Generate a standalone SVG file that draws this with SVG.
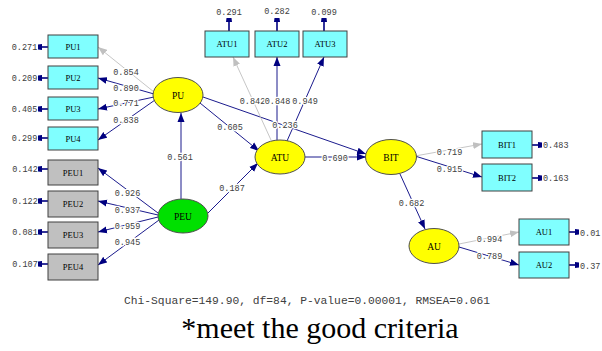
<svg xmlns="http://www.w3.org/2000/svg" width="602" height="351" viewBox="0 0 602 351">
<style>
.bg{fill:#fff}
.box{fill:#80FFFF;stroke:#404040;stroke-width:1}
.gbox{fill:#C0C0C0;stroke:#404040;stroke-width:1}
.ell{fill:#FFFF00;stroke:#505050;stroke-width:1}
.gell{fill:#00E000;stroke:#505050;stroke-width:1}
.bl{font-family:"Liberation Serif",serif;font-size:8.5px;fill:#000;text-anchor:middle}
.lv{font-family:"Liberation Serif",serif;font-size:9.5px;fill:#000;text-anchor:middle}
.n{font-family:"Liberation Mono",monospace;font-size:8.5px;fill:#404040;text-anchor:middle;stroke:#fff;stroke-width:2.5px;paint-order:stroke}
.e{font-family:"Liberation Mono",monospace;font-size:8.5px;fill:#404040;text-anchor:middle}
.es{font-family:"Liberation Mono",monospace;font-size:8.5px;fill:#404040;text-anchor:start}
.ln{stroke:#000080;stroke-width:0.9;fill:none;marker-end:url(#an)}
.lg{stroke:#C0C0C0;stroke-width:0.9;fill:none;marker-end:url(#ag)}
.er{stroke:#000080;stroke-width:1.6;fill:none;marker-end:url(#ae)}
</style>
<defs>
<marker id="an" markerUnits="userSpaceOnUse" markerWidth="10" markerHeight="8" refX="9" refY="4" orient="auto"><path d="M0,0.5 L9,4 L0,7.5 Z" fill="#000080"/></marker>
<marker id="ag" markerUnits="userSpaceOnUse" markerWidth="10" markerHeight="8" refX="9" refY="4" orient="auto"><path d="M0,0.5 L9,4 L0,7.5 Z" fill="#C0C0C0"/></marker>
<marker id="ae" markerUnits="userSpaceOnUse" markerWidth="6" markerHeight="6" refX="4" refY="3" orient="auto"><path d="M0,0 L4,0.5 L4,5.5 L0,6 Z" fill="#000080"/></marker>
</defs>
<rect class="bg" x="0" y="0" width="602" height="351"/>

<g id="connectors">
<line class="lg" x1="154" y1="92" x2="98" y2="47"/>
<line class="ln" x1="154" y1="94" x2="98" y2="78"/>
<line class="ln" x1="154" y1="97" x2="98" y2="109"/>
<line class="ln" x1="155" y1="100" x2="98" y2="140"/>
<line class="ln" x1="158" y1="213" x2="98" y2="168"/>
<line class="ln" x1="158" y1="215" x2="98" y2="201"/>
<line class="ln" x1="158" y1="217" x2="98" y2="232"/>
<line class="ln" x1="159" y1="220" x2="98" y2="265"/>
<line class="ln" x1="181" y1="199" x2="181" y2="113"/>
<line class="ln" x1="208" y1="213" x2="258" y2="163"/>
<line class="ln" x1="200" y1="103" x2="259" y2="151"/>
<line class="ln" x1="203" y1="97" x2="366" y2="154"/>
<line class="ln" x1="305" y1="157" x2="366" y2="157"/>
<line class="lg" x1="271" y1="140" x2="233" y2="57"/>
<line class="ln" x1="277" y1="140" x2="277" y2="57"/>
<line class="ln" x1="287" y1="141" x2="324" y2="57"/>
<line class="lg" x1="415" y1="156" x2="482" y2="144"/>
<line class="ln" x1="415" y1="156" x2="482" y2="177"/>
<line class="ln" x1="400" y1="174" x2="425" y2="229"/>
<line class="lg" x1="459" y1="244" x2="519" y2="232"/>
<line class="ln" x1="459" y1="247" x2="519" y2="265"/>
<!-- error arrows -->
<line class="er" x1="48" y1="47" x2="38" y2="47"/>
<line class="er" x1="48" y1="78" x2="38" y2="78"/>
<line class="er" x1="48" y1="109" x2="38" y2="109"/>
<line class="er" x1="48" y1="138" x2="38" y2="138"/>
<line class="er" x1="48" y1="169" x2="38" y2="169"/>
<line class="er" x1="48" y1="201" x2="38" y2="201"/>
<line class="er" x1="48" y1="232" x2="38" y2="232"/>
<line class="er" x1="48" y1="264" x2="38" y2="264"/>
<line class="er" x1="229" y1="31" x2="229" y2="18"/>
<line class="er" x1="277" y1="31" x2="277" y2="18"/>
<line class="er" x1="324" y1="31" x2="324" y2="18"/>
<line class="er" x1="532" y1="145" x2="542" y2="145"/>
<line class="er" x1="532" y1="178" x2="542" y2="178"/>
<line class="er" x1="569" y1="232" x2="579" y2="232"/>
<line class="er" x1="569" y1="265" x2="579" y2="265"/>
</g>

<g id="path-labels">
<text class="n" x="126" y="75">0.854</text>
<text class="n" x="126" y="91">0.890</text>
<text class="n" x="126" y="106">0.771</text>
<text class="n" x="126" y="123">0.838</text>
<text class="n" x="127.5" y="196">0.926</text>
<text class="n" x="127.5" y="213">0.937</text>
<text class="n" x="127.5" y="229">0.959</text>
<text class="n" x="127.5" y="245">0.945</text>
<text class="n" x="180" y="160">0.561</text>
<text class="n" x="232" y="191">0.187</text>
<text class="n" x="230" y="130">0.605</text>
<text class="n" x="285" y="128">0.236</text>
<text class="n" x="335" y="161">0.690</text>
<text class="n" x="252.5" y="104">0.842</text>
<text class="n" x="277.5" y="104">0.848</text>
<text class="n" x="305" y="104">0.949</text>
<text class="n" x="449.5" y="155">0.719</text>
<text class="n" x="449.5" y="172">0.915</text>
<text class="n" x="411.5" y="206">0.682</text>
<text class="n" x="489.5" y="242">0.994</text>
<text class="n" x="489.5" y="259">0.789</text>
<text class="e" x="24.5" y="50">0.271</text>
<text class="e" x="24.5" y="81">0.209</text>
<text class="e" x="24.5" y="112">0.405</text>
<text class="e" x="24.5" y="141">0.299</text>
<text class="e" x="25" y="172">0.142</text>
<text class="e" x="25" y="204">0.122</text>
<text class="e" x="25" y="235">0.081</text>
<text class="e" x="25" y="267">0.107</text>
<text class="e" x="229" y="15">0.291</text>
<text class="e" x="277" y="14">0.282</text>
<text class="e" x="324" y="15">0.099</text>
<text class="es" x="543" y="148">0.483</text>
<text class="es" x="543" y="181">0.163</text>
<text class="es" x="580" y="236">0.01</text>
<text class="es" x="580" y="269">0.37</text>
</g>

<g id="PU1"><rect class="box" x="48" y="35" width="50" height="23"/><text class="bl" x="73" y="49.5">PU1</text></g>
<g id="PU2"><rect class="box" x="48" y="66" width="50" height="23"/><text class="bl" x="73" y="80.5">PU2</text></g>
<g id="PU3"><rect class="box" x="48" y="97" width="50" height="23"/><text class="bl" x="73" y="111.5">PU3</text></g>
<g id="PU4"><rect class="box" x="48" y="127" width="50" height="23"/><text class="bl" x="73" y="141.5">PU4</text></g>
<g id="PEU1"><rect class="gbox" x="48" y="160" width="50" height="25"/><text class="bl" x="73" y="175.5">PEU1</text></g>
<g id="PEU2"><rect class="gbox" x="48" y="191" width="50" height="26"/><text class="bl" x="73" y="207">PEU2</text></g>
<g id="PEU3"><rect class="gbox" x="48" y="222" width="50" height="26"/><text class="bl" x="73" y="238">PEU3</text></g>
<g id="PEU4"><rect class="gbox" x="48" y="254" width="50" height="26"/><text class="bl" x="73" y="270">PEU4</text></g>
<g id="ATU1"><rect class="box" x="205" y="31" width="44" height="26"/><text class="bl" x="227" y="47">ATU1</text></g>
<g id="ATU2"><rect class="box" x="255" y="31" width="44" height="26"/><text class="bl" x="277" y="47">ATU2</text></g>
<g id="ATU3"><rect class="box" x="303" y="31" width="44" height="26"/><text class="bl" x="325" y="47">ATU3</text></g>
<g id="BIT1"><rect class="box" x="482" y="131" width="50" height="27"/><text class="bl" x="507" y="147.5">BIT1</text></g>
<g id="BIT2"><rect class="box" x="482" y="164" width="50" height="27"/><text class="bl" x="507" y="180.5">BIT2</text></g>
<g id="AU1"><rect class="box" x="519" y="219" width="50" height="26"/><text class="bl" x="544" y="235">AU1</text></g>
<g id="AU2"><rect class="box" x="519" y="252" width="50" height="26"/><text class="bl" x="544" y="268">AU2</text></g>

<g id="PU"><ellipse class="ell" cx="178" cy="95" rx="25" ry="17.5"/><text class="lv" x="178" y="98.5">PU</text></g>
<g id="PEU"><ellipse class="gell" cx="183" cy="216" rx="25" ry="17"/><text class="lv" x="183" y="219.5">PEU</text></g>
<g id="ATU"><ellipse class="ell" cx="280" cy="157" rx="25" ry="17"/><text class="lv" x="280" y="160.5">ATU</text></g>
<g id="BIT"><ellipse class="ell" cx="391" cy="157" rx="25.5" ry="17.5"/><text class="lv" x="391" y="160.5">BIT</text></g>
<g id="AU"><ellipse class="ell" cx="434" cy="246" rx="25" ry="17.5"/><text class="lv" x="434" y="249.5">AU</text></g>

<text x="307" y="304" font-family="Liberation Mono, monospace" font-size="11.3" fill="#404040" text-anchor="middle">Chi-Square=149.90, df=84, P-value=0.00001, RMSEA=0.061</text>
<text x="320" y="338" font-family="Liberation Serif, serif" font-size="30" fill="#000" text-anchor="middle">*meet the good criteria</text>
</svg>
